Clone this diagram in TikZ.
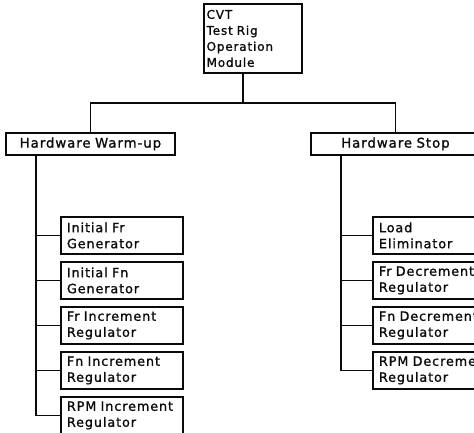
\documentclass[tikz,border=0pt]{standalone}
\usepackage{fontspec}
\usepackage{tikz}
\usetikzlibrary{positioning}
\newfontfamily\rigfont{DejaVu Sans}[LetterSpace=7,WordSpace=2.6,FakeBold=1.2]
\definecolor{RigInk}{RGB}{10, 10, 10}

\begin{document}
\begin{tikzpicture}[x=0.75pt, y=-0.75pt,
    modbox/.style={draw=RigInk, line width=1.4pt, anchor=north west, inner ysep=0pt,
                   text=RigInk, font=\rigfont\fontsize{9}{12}\selectfont},
    topbox/.style={modbox, inner xsep=2pt, text width=69.5pt, minimum height=51.75pt, align=left},
    groupbox/.style={modbox, inner xsep=2pt, text width=122.75pt, minimum height=16.5pt, align=center,
                     font=\rigfont\fontsize{10}{12}\selectfont},
    childbox/.style={modbox, inner xsep=4.5pt, text width=82.5pt, minimum height=27.75pt, align=left,
                     font=\rigfont\fontsize{9.6}{12}\selectfont},
    wire/.style={draw=RigInk, line width=1.4pt}]
    \useasboundingbox (0,0) rectangle (474,432);
    \clip (0,0) rectangle (474,432);

    % root and the two groups
    \node[topbox] (top) at (203,3) {CVT\\Test Rig\\Operation\\Module};
    \node[groupbox] (warm) at (5,132) {Hardware Warm-up};
    \node[groupbox] (stop) at (310,132) {Hardware Stop};

    % warm-up modules
    \node[childbox] (ifr) at (60,216) {Initial Fr\\Generator};
    \node[childbox] (ifn) at (60,261) {Initial Fn\\Generator};
    \node[childbox] (frinc) at (60,306) {Fr Increment\\Regulator};
    \node[childbox] (fninc) at (60,351) {Fn Increment\\Regulator};
    \node[childbox] (rpminc) at (60,396) {\mbox{RPM Increment}\\Regulator};

    % stop modules
    \node[childbox] (load) at (372,216) {Load\\Eliminator};
    \node[childbox] (frdec) at (372,261) {\mbox{Fr Decrement}\\Regulator};
    \node[childbox] (fndec) at (372,306) {\mbox{Fn Decrement}\\Regulator};
    \node[childbox] (rpmdec) at (372,351) {\mbox{RPM Decrement}\\Regulator};

    % connectors
    \coordinate (topfoot) at ([xshift=-7.5pt]top.south);
    \draw[wire] (topfoot) -- ++(0,29) -| (warm.north);
    \draw[wire] (topfoot) -- ++(0,29) -| (stop.north);
    \coordinate (warmtrunk) at (36,154);
    \coordinate (stoptrunk) at (341,154);
    \foreach \m in {ifr, ifn, frinc, fninc, rpminc}
      \draw[wire] (warmtrunk) |- (\m.west);
    \foreach \m in {load, frdec, fndec, rpmdec}
      \draw[wire] (stoptrunk) |- (\m.west);
\end{tikzpicture}
\end{document}
